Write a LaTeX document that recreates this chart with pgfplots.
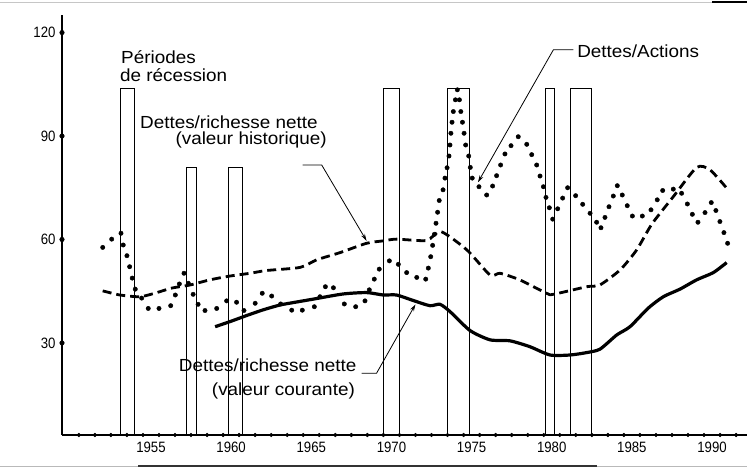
\documentclass[border=0pt]{standalone}
\usepackage{fontspec}
\setmainfont{Liberation Sans}[FakeStretch=1.08]
\newfontfamily\numfont{Liberation Sans}[FakeStretch=0.88]
\usepackage{pgfplots}
\pgfplotsset{compat=1.18}
\usetikzlibrary{arrows.meta}
\newcommand\lbl{\fontsize{17.5bp}{18.5bp}\selectfont}

% Dettes/Actions (dots)
\pgfplotstableread{
x y
1951.99 57.7
1952.55 60.1
1953.13 61.8
1953.27 58.4
1953.50 55.3
1953.67 52.1
1953.83 48.8
1954.02 45.6
1954.42 43.0
1954.83 40.0
1955.50 40.0
1956.23 40.8
1956.52 43.9
1956.77 47.1
1957.06 50.2
1957.33 47.3
1957.63 44.1
1957.94 41.2
1958.37 39.4
1959.10 40.0
1959.72 42.2
1960.34 41.8
1960.80 39.4
1961.50 41.5
1961.94 44.4
1962.53 43.6
1963.09 41.3
1963.78 39.5
1964.44 39.5
1965.19 40.5
1965.54 43.4
1965.88 46.3
1966.38 46.0
1967.06 41.3
1967.77 40.5
1968.35 42.2
1968.62 45.4
1968.93 48.5
1969.24 51.4
1969.87 53.8
1970.43 52.8
1970.95 50.4
1971.58 49.0
1972.14 48.5
1972.30 51.7
1972.45 55.0
1972.57 58.3
1972.68 61.5
1972.78 64.7
1972.88 67.9
1972.98 71.3
1973.22 74.4
1973.34 77.8
1973.47 80.8
1973.59 84.2
1973.65 87.4
1973.71 90.8
1973.78 94.0
1973.86 97.1
1973.99 100.5
1974.11 103.4
1974.24 100.5
1974.33 97.1
1974.43 94.0
1974.53 90.8
1974.63 87.4
1974.82 84.2
1974.92 80.9
1975.04 77.8
1975.46 75.3
1975.94 72.9
1976.31 75.5
1976.56 78.5
1976.81 81.6
1977.08 84.8
1977.46 87.2
1977.91 89.8
1978.44 87.6
1978.75 84.6
1979.06 81.6
1979.27 78.4
1979.48 75.3
1979.64 72.2
1979.85 69.2
1980.06 65.9
1980.37 68.9
1980.68 72.0
1980.99 75.0
1981.49 72.7
1981.93 70.2
1982.39 67.6
1982.80 65.0
1983.07 63.4
1983.32 66.4
1983.57 69.5
1983.84 72.6
1984.09 75.6
1984.40 72.9
1984.71 69.8
1985.03 66.8
1985.65 66.8
1986.19 68.6
1986.58 71.5
1986.92 74.2
1987.58 74.6
1988.10 73.4
1988.46 70.3
1988.77 67.3
1989.12 65.0
1989.56 67.8
1989.95 70.7
1990.24 68.4
1990.49 65.2
1990.74 62.0
1990.97 58.9
}\actions

% Dettes/richesse nette (valeur historique)
\pgfplotstableread{
x y
1951.99 45.1
1953.06 43.9
1954.31 43.4
1955.30 44.5
1956.29 45.9
1957.43 46.8
1958.68 48.3
1959.93 49.4
1961.18 50.2
1962.20 51.0
1964.30 51.9
1965.34 54.1
1966.80 56.2
1968.45 58.9
1969.49 59.6
1970.32 60.1
1972.19 59.7
1973.08 62.3
1974.70 57.0
1976.15 49.7
1976.77 50.2
1978.00 48.3
1979.68 44.4
1980.10 44.1
1982.18 46.3
1983.00 46.8
1984.27 51.2
1985.30 57.0
1986.25 64.5
1987.58 72.4
1989.04 80.9
1989.87 80.2
1990.91 74.9
}\historique

% Dettes/richesse nette (valeur courante)
\pgfplotstableread{
x y
1959.00 34.7
1960.00 36.3
1961.00 38.0
1962.00 39.6
1963.05 41.0
1964.00 41.8
1965.12 42.7
1966.99 44.2
1968.45 44.6
1969.49 43.9
1970.32 43.9
1971.36 42.3
1972.40 40.8
1973.03 41.2
1973.65 39.1
1974.90 33.6
1976.15 30.9
1977.40 30.6
1978.64 28.9
1979.89 26.5
1981.14 26.5
1982.18 27.2
1983.01 28.2
1984.05 32.3
1984.88 34.7
1986.02 40.1
1986.96 43.4
1988.00 45.6
1989.04 48.3
1990.08 50.4
1990.91 53.3
}\courante

\begin{document}
\begin{tikzpicture}
\begin{axis}[
  scale only axis, width=685bp, height=420bp,
  xmin=1949.45, xmax=1992.18, ymin=3.3, ymax=125.1,
  axis x line=bottom, axis y line=left,
  axis line style={-, line width=1.8bp},
  xtick={1955,1960,1965,1970,1975,1980,1985,1990},
  xticklabels={1955,1960,1965,1970,1975,1980,1985,1990},
  ytick={30,60,90,120},
  yticklabels={30,60,90,120},
  major tick length=0pt,
  tick label style={font=\numfont\fontsize{15bp}{15bp}\selectfont},
  xticklabel style={yshift=-3.5bp},
  yticklabel style={xshift=-3bp},
  clip=false,
]
% periodes de recession
\addplot[black, line width=0.9bp] coordinates {(1953.07,3.3) (1953.07,103.7) (1953.96,103.7) (1953.96,3.3)};
\addplot[black, line width=0.9bp] coordinates {(1957.23,3.3) (1957.23,81.0) (1957.85,81.0) (1957.85,3.3)};
\addplot[black, line width=0.9bp] coordinates {(1959.82,3.3) (1959.82,81.0) (1960.70,81.0) (1960.70,3.3)};
\addplot[black, line width=0.9bp] coordinates {(1969.53,3.3) (1969.53,103.7) (1970.47,103.7) (1970.47,3.3)};
\addplot[black, line width=0.9bp] coordinates {(1973.48,3.3) (1973.48,103.7) (1974.85,103.7) (1974.85,3.3)};
\addplot[black, line width=0.9bp] coordinates {(1979.58,3.3) (1979.58,103.7) (1980.14,103.7) (1980.14,3.3)};
\addplot[black, line width=0.9bp] coordinates {(1981.14,3.3) (1981.14,103.7) (1982.45,103.7) (1982.45,3.3)};

% series
\addplot[black, line width=2.8bp, dash pattern=on 9bp off 5bp, smooth, tension=0.4] table {\historique};
\addplot[black, line width=3.2bp, smooth, tension=0.4] table {\courante};
\addplot[only marks, mark=*, mark size=2.2bp, black] table {\actions};

% axis dots
\addplot[only marks, mark=*, mark size=2.3bp, black] coordinates {(1949.45,30) (1949.45,60) (1949.45,90) (1949.45,120)};
\addplot[only marks, mark=*, mark size=1.9bp, black] coordinates {
(1950.5,3.3) (1951.5,3.3) (1952.5,3.3) (1953.5,3.3) (1954.5,3.3) (1955.5,3.3) (1956.5,3.3)
(1957.5,3.3) (1958.5,3.3) (1959.5,3.3) (1960.5,3.3) (1961.5,3.3) (1962.5,3.3) (1963.5,3.3)
(1964.5,3.3) (1965.5,3.3) (1966.5,3.3) (1967.5,3.3) (1968.5,3.3) (1969.5,3.3) (1970.5,3.3)
(1971.5,3.3) (1972.5,3.3) (1973.5,3.3) (1974.5,3.3) (1975.5,3.3) (1976.5,3.3) (1977.5,3.3)
(1978.5,3.3) (1979.5,3.3) (1980.5,3.3) (1981.5,3.3) (1982.5,3.3) (1983.5,3.3) (1984.5,3.3)
(1985.5,3.3) (1986.5,3.3) (1987.5,3.3) (1988.5,3.3) (1989.5,3.3) (1990.5,3.3) (1991.5,3.3)};

% labels
\node[anchor=base west, inner sep=0pt, font=\lbl] at (axis cs:1953.13,111.1) {Périodes};
\node[anchor=base west, inner sep=0pt, font=\lbl] at (axis cs:1953.06,105.7) {de récession};
\node[anchor=base west, inner sep=0pt, font=\lbl] at (axis cs:1954.31,92.3) {Dettes/richesse nette};
\node[anchor=base east, inner sep=0pt, font=\lbl] at (axis cs:1965.98,87.4) {(valeur historique)};
\node[anchor=base east, inner sep=0pt, font=\lbl] at (axis cs:1967.83,21.7) {Dettes/richesse nette};
\node[anchor=base east, inner sep=0pt, font=\lbl] at (axis cs:1967.73,14.7) {(valeur courante)};
\node[anchor=base west, inner sep=0pt, font=\lbl] at (axis cs:1981.58,112.9) {Dettes/Actions};

% leader lines
\draw[line width=0.8bp, -{Stealth[length=7bp,width=4bp]}] (axis cs:1964.46,81.6) -- (axis cs:1965.65,81.6) -- (axis cs:1968.45,59.6);
\draw[line width=0.8bp, -{Stealth[length=7bp,width=4bp]}] (axis cs:1968.14,21.2) -- (axis cs:1969.07,21.2) -- (axis cs:1971.50,41.2);
\draw[line width=0.8bp, -{Stealth[length=7bp,width=4bp]}] (axis cs:1981.35,115.0) -- (axis cs:1980.10,115.0) -- (axis cs:1975.40,76.6);
\end{axis}
% scan borders
\draw[gray!45, line width=0.8bp] (-62bp,433bp) -- (673bp,433bp);
\draw[black, line width=1.5bp] (650bp,433bp) -- (685bp,433bp);
\draw[gray!55, line width=1bp] (-62bp,-31bp) -- (685bp,-31bp);
\draw[black!80, line width=1.4bp] (76bp,-31bp) -- (535bp,-31bp);
\pgfresetboundingbox
\useasboundingbox (-62bp,-37bp) rectangle (685bp,435bp);
\end{tikzpicture}
\end{document}
